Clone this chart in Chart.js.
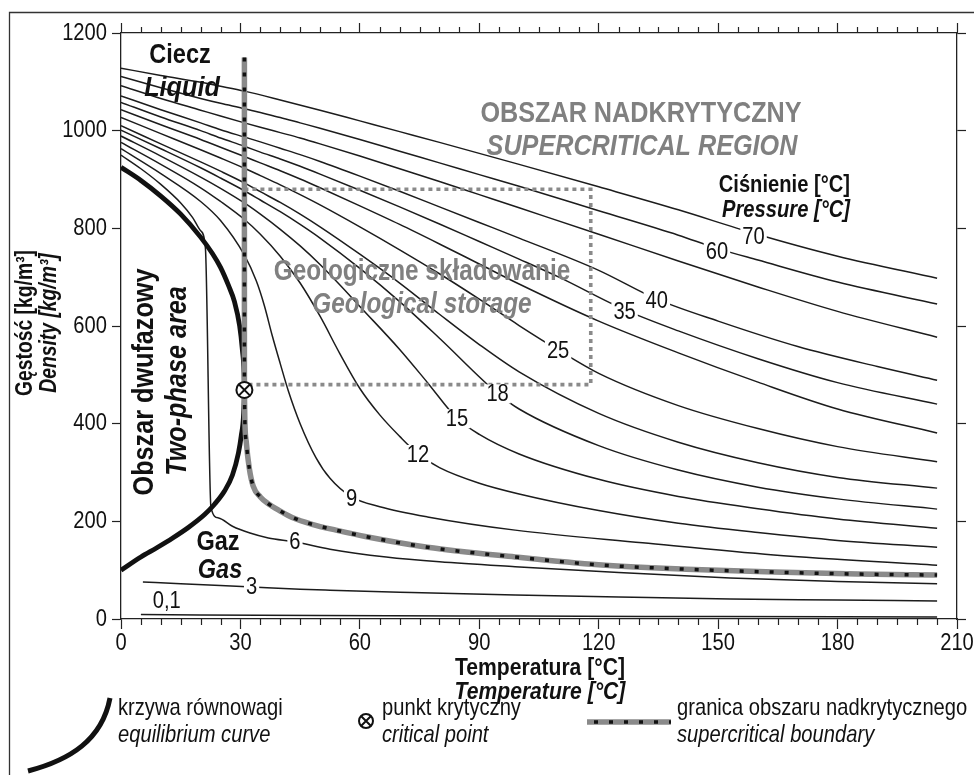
<!DOCTYPE html>
<html><head><meta charset="utf-8">
<script src="https://cdn.jsdelivr.net/npm/chart.js@4.4.1/dist/chart.umd.min.js"></script>
<style>html,body{margin:0;padding:0;background:#fff;}canvas{display:block;}</style>
</head><body>
<canvas id="c" width="974" height="775"></canvas>
<script>
// ---------- data (temperature °C, density kg/m3) ----------
const temperatureTicks = [0, 30, 60, 90, 120, 150, 180, 210];
const densityTicks = [0, 200, 400, 600, 800, 1000, 1200];

const isobar70 = [[0,1128],[10,1113],[20,1099],[25,1091],[31,1081],[40,1063],[50,1042],[60,1020],[70,998],[80,976],[100,931],[120,885],[140,838],[158.9,790],[180,743],[205,698]];
const isobar60 = [[0,1111],[10,1088],[20,1066],[25,1056],[31,1045],[35,1037],[40,1027],[45,1016],[50,1005],[60,982],[70,958],[80,934],[90,910],[100,886],[120,836],[140,786],[149.7,759],[160,735],[180,690],[205,645]];
const isobar50 = [[0,1092],[10,1066],[20,1042],[25,1030],[31,1016],[35,1007],[40,996],[45,985],[50,973],[60,948],[70,922],[80,896],[90,869],[100,842],[120,788],[140,733],[160,680],[180,630],[205,577]];
const isobar40 = [[0,1071],[10,1043],[20,1016],[25,1002],[31,987],[35,977],[40,964],[45,951],[50,937],[60,907],[70,876],[80,844],[90,812],[100,780],[120,714],[134.6,655],[150,610],[170,558],[190,517],[205,489]];
const isobar35 = [[0,1058],[10,1028],[20,1000],[25,985],[31,968],[35,956],[40,942],[45,927],[50,911],[60,878],[70,844],[80,809],[90,773],[100,737],[110,700],[126.6,633],[140,590],[160,533],[180,484],[205,440]];
const isobar30 = [[0,1043],[10,1012],[20,982],[25,966],[31,947],[35,934],[40,918],[45,901],[50,883],[60,846],[70,808],[80,768],[90,727],[100,686],[120,610],[140,545],[160,485],[180,430],[205,381]];
const isobar25 = [[0,1027],[10,994],[20,961],[25,944],[31,923],[35,908],[40,889],[45,869],[50,848],[60,803],[70,756],[80,707],[90,655],[100,601],[109.8,551],[120,503],[140,437],[160,390],[180,353],[205,322]];
const isobar20 = [[0,1010],[10,973],[20,936],[25,917],[31,893],[35,875],[40,853],[45,829],[50,803],[60,747],[70,688],[80,624],[90,562],[100,506],[120,421],[140,362],[160,320],[180,290],[205,268]];
const isobar18 = [[0,1001],[10,963],[20,924],[25,903],[31,877],[35,858],[40,834],[45,808],[50,780],[60,718],[70,650],[80,575],[94.6,462],[100,430],[120,355],[140,305],[160,270],[180,246],[205,225]];
const isobar15 = [[0,989],[10,948],[20,905],[25,882],[31,852],[35,829],[40,798],[45,764],[50,726],[55,684],[60,640],[70,552],[77,484],[84.4,411],[90,378],[100,338],[120,286],[140,251],[160,226],[180,205],[205,186]];
const isobar12 = [[0,976],[10,931],[20,883],[25,855],[31,818],[35,788],[40,743],[45,688],[50,620],[55,543],[60,472],[65,418],[70,374],[74.6,338],[80,310],[90,278],[100,256],[120,222],[140,196],[160,177],[180,161],[205,147]];
const isobar9 = [[0,963],[10,912],[20,855],[25,816],[31,745],[34,692],[36,642],[38,580],[40,523],[42,468],[45,400],[49,330],[52.5,288],[57.9,250],[65,230],[77,209],[99,182],[131,156],[164,131],[205,110]];
const isobar6 = [[0,950],[5,922],[10,890],[15,852],[18,822],[20,795],[21.2,760],[22.6,228],[24.5,207],[28,190],[32.4,176],[37,166],[43.7,158],[52.5,143],[66.6,127],[80,117],[99,107],[125,95],[153,84],[180,77],[205,72]];
const isobar3 = [[5.5,76],[15,72],[31.7,66],[45,61],[52.5,59],[70,55],[99,49],[125,45],[153,41],[180,39],[205,37]];
const isobar01 = [[5,9],[50,7],[100,6],[150,5],[205,4]];

const equilibriumLiquid = [[0,925],[5,898],[10,866],[15,829],[20,782],[23,748],[25,720],[27,683],[28.5,650],[29.8,600],[30.5,550],[30.9,505],[31,469]];
const equilibriumGas = [[0,100],[5,127],[9,146],[13,166],[17,188],[21,214],[23.5,235],[26,262],[28,295],[29.5,340],[30.2,375],[30.8,420],[31,469]];
const boundaryVertical = [[31,1150],[31,469]];
const boundaryGas = [[31,469],[31.1,410],[31.5,360],[32.2,310],[33.2,272],[35,250],[37,236],[40,221],[43,208],[48,194],[54,182],[62,168],[77,147],[99,127],[120,111],[142,102],[164,96],[185,92],[205,90]];
const criticalPoint = [[31,469]];
const storageBox = [[31,880],[118,880],[118,480],[31,480],[31,880]];

// label text and its place (T, density)
const isobarLabels = [['70',158.9,784],['60',149.7,753],['40',134.6,653],['35',126.5,629],['25',109.8,551],['18',94.6,462],['15',84.4,411],['12',74.6,338],['9',57.9,248],['6',43.7,158],['3',32.8,66]];
const lowLabel = ['0,1', 11.5, 36];

// ---------- rendering ----------
const FONT = '"Liberation Sans", Arial, sans-serif';
const NARROW = 0.84;
const GREY = '#8a8a8a';
const pts = a => a.map(p => ({x: p[0], y: p[1]}));
const isoList = [isobar70, isobar60, isobar50, isobar40, isobar35, isobar30, isobar25, isobar20, isobar18, isobar15, isobar12, isobar9, isobar6, isobar3, isobar01];

const datasets = isoList.map(a => ({
  data: pts(a), borderColor: '#1c1c1c', borderWidth: 1.5, pointRadius: 0,
  showLine: true, cubicInterpolationMode: 'monotone', order: 6
}));
datasets.push({data: pts(storageBox), borderColor: GREY, borderWidth: 3.6, borderDash: [4, 4], pointRadius: 0, showLine: true, tension: 0, order: 5});
[equilibriumLiquid, equilibriumGas].forEach(a => datasets.push({data: pts(a), borderColor: '#111', borderWidth: 4.8, pointRadius: 0, showLine: true, cubicInterpolationMode: 'monotone', order: 4}));
datasets.push({data: pts(boundaryVertical), borderColor: GREY, borderWidth: 5.5, pointRadius: 0, showLine: true, tension: 0, order: 3});
datasets.push({data: pts(boundaryGas), borderColor: GREY, borderWidth: 5.5, pointRadius: 0, showLine: true, cubicInterpolationMode: 'monotone', order: 3});
datasets.push({data: pts(boundaryVertical), borderColor: '#111', borderWidth: 3.5, borderDash: [4, 11], pointRadius: 0, showLine: true, tension: 0, order: 2});
datasets.push({data: pts(boundaryGas), borderColor: '#111', borderWidth: 3.5, borderDash: [4, 11], pointRadius: 0, showLine: true, cubicInterpolationMode: 'monotone', order: 2});
datasets.push({data: pts(criticalPoint), pointStyle: 'circle', pointRadius: 8, pointBorderWidth: 2, pointBorderColor: '#111', pointBackgroundColor: '#fff', showLine: false, order: 1});
datasets.push({data: pts(criticalPoint), pointStyle: 'crossRot', pointRadius: 8, pointBorderWidth: 2, pointBorderColor: '#111', showLine: false, order: 0});

function txt(ctx, s, x, y, o) {
  ctx.save();
  ctx.font = (o.style || 'normal') + ' ' + (o.weight || 'normal') + ' ' + o.size + 'px ' + FONT;
  ctx.fillStyle = o.color || '#111';
  ctx.textAlign = o.align || 'center';
  ctx.textBaseline = o.base || 'middle';
  ctx.translate(x, y);
  if (o.rot) ctx.rotate(o.rot);
  ctx.scale(o.sx || NARROW, 1);
  ctx.fillText(s, 0, 0);
  ctx.restore();
}
function txtWidth(ctx, s, size, weight) {
  ctx.save();
  ctx.font = (weight || 'normal') + ' ' + size + 'px ' + FONT;
  const w = ctx.measureText(s).width * NARROW;
  ctx.restore();
  return w;
}

const decorations = {
  id: 'decorations',
  afterDatasetsDraw(chart) {
    const ctx = chart.ctx, xs = chart.scales.x, ys = chart.scales.y;
    isobarLabels.forEach(([s, t, d]) => {
      const px = xs.getPixelForValue(t), py = ys.getPixelForValue(d);
      const w = txtWidth(ctx, s, 24);
      ctx.fillStyle = '#fff';
      ctx.fillRect(px - w / 2 - 2, py - 9, w + 4, 19);
      txt(ctx, s, px, py + 1, {size: 24});
    });
    txt(ctx, lowLabel[0], xs.getPixelForValue(lowLabel[1]), ys.getPixelForValue(lowLabel[2]), {size: 24});
  },
  afterDraw(chart) {
    const ctx = chart.ctx, a = chart.chartArea, xs = chart.scales.x, ys = chart.scales.y;
    // minor ticks
    ctx.save();
    ctx.strokeStyle = '#222'; ctx.lineWidth = 1.2;
    for (let v = 5; v < 210; v += 5) {
      if (v % 30 === 0) continue;
      const px = Math.round(xs.getPixelForValue(v)) + 0.5;
      ctx.beginPath(); ctx.moveTo(px, a.bottom); ctx.lineTo(px, a.bottom + 6); ctx.stroke();
      ctx.beginPath(); ctx.moveTo(px, a.top); ctx.lineTo(px, a.top - 6); ctx.stroke();
    }
    // outer frame
    ctx.strokeStyle = '#333'; ctx.lineWidth = 1.3;
    ctx.beginPath(); ctx.moveTo(9.5, 780); ctx.lineTo(9.5, 12.5); ctx.lineTo(980, 12.5); ctx.stroke();
    ctx.restore();

    // tick labels (condensed face)
    temperatureTicks.forEach(v => txt(ctx, String(v), xs.getPixelForValue(v), a.bottom + 24, {size: 24}));
    densityTicks.forEach(v => txt(ctx, String(v), a.left - 14, ys.getPixelForValue(v), {size: 24, align: 'right'}));

    // region texts
    txt(ctx, 'Ciecz', 180, 55, {size: 28, weight: 'bold'});
    txt(ctx, 'Liquid', 182, 88, {size: 28, weight: 'bold', style: 'italic', sx: 0.9});
    txt(ctx, 'OBSZAR NADKRYTYCZNY', 641, 114, {size: 30, weight: 'bold', color: '#808080'});
    txt(ctx, 'SUPERCRITICAL REGION', 642, 147, {size: 30, weight: 'bold', style: 'italic', color: '#808080'});
    txt(ctx, 'Ciśnienie [°C]', 850, 185, {size: 24, weight: 'bold', align: 'right'});
    txt(ctx, 'Pressure [°C]', 850, 210, {size: 24, weight: 'bold', style: 'italic', align: 'right'});
    txt(ctx, 'Geologiczne składowanie', 422, 272, {size: 29, weight: 'bold', color: '#808080'});
    txt(ctx, 'Geological storage', 422, 305, {size: 29, weight: 'bold', style: 'italic', color: '#808080'});
    txt(ctx, 'Obszar dwufazowy', 145, 382, {size: 30, weight: 'bold', rot: -Math.PI / 2});
    txt(ctx, 'Two-phase area', 178, 381, {size: 30, weight: 'bold', style: 'italic', rot: -Math.PI / 2});
    txt(ctx, 'Gaz', 218, 542, {size: 28, weight: 'bold'});
    txt(ctx, 'Gas', 220, 570, {size: 28, weight: 'bold', style: 'italic'});

    // axis titles
    txt(ctx, 'Temperatura [°C]', 540, 668, {size: 24, weight: 'bold', sx: 0.88});
    txt(ctx, 'Temperature [°C]', 540, 692, {size: 24, weight: 'bold', style: 'italic', sx: 0.88});
    txt(ctx, 'Gęstość [kg/m³]', 26, 323, {size: 23, weight: 'bold', rot: -Math.PI / 2});
    txt(ctx, 'Density [kg/m³]', 50, 323, {size: 23, weight: 'bold', style: 'italic', rot: -Math.PI / 2});

    // legend
    ctx.save();
    ctx.strokeStyle = '#111'; ctx.lineWidth = 5; ctx.lineCap = 'butt';
    ctx.beginPath(); ctx.moveTo(28, 771); ctx.bezierCurveTo(70, 760, 102, 740, 110, 698); ctx.stroke();
    ctx.lineWidth = 2;
    ctx.beginPath(); ctx.arc(366, 721, 7, 0, Math.PI * 2); ctx.stroke();
    ctx.beginPath(); ctx.moveTo(361, 716); ctx.lineTo(371, 726); ctx.moveTo(371, 716); ctx.lineTo(361, 726); ctx.stroke();
    ctx.strokeStyle = GREY; ctx.lineWidth = 5.5;
    ctx.beginPath(); ctx.moveTo(587, 722); ctx.lineTo(671, 722); ctx.stroke();
    ctx.strokeStyle = '#111'; ctx.lineWidth = 3.5; ctx.setLineDash([4, 11]);
    ctx.beginPath(); ctx.moveTo(594, 722); ctx.lineTo(671, 722); ctx.stroke();
    ctx.restore();
    txt(ctx, 'krzywa równowagi', 118, 708, {size: 24, align: 'left'});
    txt(ctx, 'equilibrium curve', 118, 735, {size: 24, style: 'italic', align: 'left'});
    txt(ctx, 'punkt krytyczny', 382, 708, {size: 24, align: 'left'});
    txt(ctx, 'critical point', 382, 735, {size: 24, style: 'italic', align: 'left'});
    txt(ctx, 'granica obszaru nadkrytycznego', 677, 708, {size: 24, align: 'left'});
    txt(ctx, 'supercritical boundary', 677, 735, {size: 24, style: 'italic', align: 'left'});
  }
};

const axisBase = {
  type: 'linear', ticks: {display: false},
  grid: {drawOnChartArea: false, color: '#222', tickWidth: 1.2},
  border: {color: '#222', width: 1.3}
};
const mk = (o) => Object.assign({}, axisBase, o, {grid: Object.assign({}, axisBase.grid, o.grid || {})});
new Chart(document.getElementById('c'), {
  type: 'scatter',
  data: {datasets},
  options: {
    responsive: false, animation: false, devicePixelRatio: 1,
    layout: {padding: 0},
    plugins: {legend: {display: false}, tooltip: {enabled: false}},
    scales: {
      x: mk({position: 'bottom', min: 0, max: 210,
        afterBuildTicks: s => { s.ticks = temperatureTicks.map(v => ({value: v})); },
        afterFit: s => { s.height = 156; }, grid: {tickLength: 10}}),
      x2: mk({position: 'top', min: 0, max: 210,
        afterBuildTicks: s => { s.ticks = temperatureTicks.map(v => ({value: v})); },
        afterFit: s => { s.height = 33; }, grid: {tickLength: 10}}),
      y: mk({position: 'left', min: 0, max: 1200,
        afterBuildTicks: s => { s.ticks = densityTicks.map(v => ({value: v})); },
        afterFit: s => { s.width = 121; }, grid: {tickLength: 9}}),
      y2: mk({position: 'right', min: 0, max: 1200,
        afterBuildTicks: s => { s.ticks = densityTicks.map(v => ({value: v})); },
        afterFit: s => { s.width = 17; }, grid: {tickLength: 9}})
    }
  },
  plugins: [decorations]
});
</script>
</body></html>
